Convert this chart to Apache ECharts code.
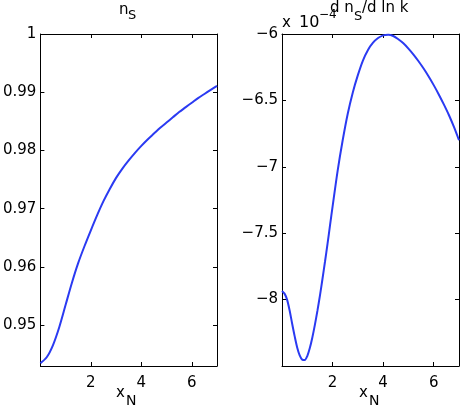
<!DOCTYPE html>
<html>
<head>
<meta charset="utf-8">
<script src="https://cdn.jsdelivr.net/npm/echarts@6/dist/echarts.min.js"></script>
<style>
  html, body { margin: 0; padding: 0; background: #fff; }
  #chart { width: 463px; height: 411px; }
</style>
</head>
<body>
<div id="chart"></div>
<script>
// left panel: n_S vs x_N
const nsX = [0, 0.25, 0.5, 0.75, 1, 1.25, 1.5, 1.75, 2, 2.25, 2.5, 2.75, 3, 3.25, 3.5, 3.75, 4,
  4.25, 4.5, 4.75, 5, 5.25, 5.5, 5.75, 6, 6.25, 6.5, 6.75, 7]
const nsY = [0.9435, 0.9445, 0.9466, 0.9497, 0.9535, 0.9573, 0.9607, 0.9636, 0.9663, 0.9689, 0.9713,
  0.9734, 0.9753, 0.9769, 0.9783, 0.9796, 0.9808, 0.9819, 0.9829, 0.9839, 0.9848, 0.9857, 0.9866,
  0.9874, 0.9882, 0.9890, 0.9897, 0.9904, 0.9911]

// right panel: d n_S / d ln k  (x 10^-4) vs x_N
const runX = [0, 0.1, 0.2, 0.3, 0.4, 0.5, 0.6, 0.7, 0.8, 0.9, 1.0, 1.1, 1.2, 1.3, 1.4, 1.5, 1.6, 1.7,
  1.8, 1.9, 2.0, 2.2, 2.4, 2.6, 2.8, 3.0, 3.2, 3.4, 3.6, 3.8, 4.0, 4.2, 4.4, 4.6, 4.8, 5.0, 5.2, 5.4,
  5.6, 5.8, 6.0, 6.2, 6.4, 6.6, 6.8, 7.0]
const runY = [-7.935, -7.955, -8.0, -8.08, -8.18, -8.275, -8.36, -8.42, -8.452, -8.455, -8.425, -8.365,
  -8.285, -8.19, -8.085, -7.97, -7.845, -7.715, -7.58, -7.44, -7.30, -7.03, -6.80, -6.60, -6.44, -6.31,
  -6.20, -6.12, -6.065, -6.03, -6.01, -6.005, -6.015, -6.04, -6.07, -6.11, -6.155, -6.205, -6.26,
  -6.32, -6.385, -6.455, -6.53, -6.61, -6.70, -6.80]

const xTicks = [2, 4, 6]
const nsTicks = [0.95, 0.96, 0.97, 0.98, 0.99, 1]
const runTicks = [-8, -7.5, -7, -6.5, -6]

const FONT = '"DejaVu Sans", Arial, sans-serif'
const LINE = '#2a3af2'

const chart = echarts.init(document.getElementById('chart'))

function xAx(grid, pos, labels) {
  return {
    type: 'value', gridIndex: grid, position: pos, min: 0, max: 7,
    axisLine: { show: true, onZero: false, lineStyle: { color: '#000', width: 1 } },
    splitLine: { show: false },
    axisTick: { show: true, inside: true, length: 4, customValues: xTicks, lineStyle: { color: '#000' } },
    axisLabel: { show: labels, customValues: xTicks, color: '#000', fontSize: 15, fontFamily: FONT, margin: 10 }
  }
}

function yAx(grid, pos, labels, min, max, ticks, fmt) {
  return {
    type: 'value', gridIndex: grid, position: pos, min: min, max: max,
    axisLine: { show: true, onZero: false, lineStyle: { color: '#000', width: 1 } },
    splitLine: { show: false },
    axisTick: { show: true, inside: true, length: 4, customValues: ticks, lineStyle: { color: '#000' } },
    axisLabel: { show: labels, customValues: ticks, color: '#000', fontSize: 15, fontFamily: FONT, margin: 4, formatter: fmt }
  }
}

const minus = v => String(v).replace('-', '\u2212')

function txt(x, y, s, size) {
  return {
    type: 'text', x: x, y: y,
    style: { text: s, fill: '#000', font: size + 'px ' + FONT, textAlign: 'left', textVerticalAlign: 'middle' }
  }
}

chart.setOption({
  animation: false,
  backgroundColor: '#fff',
  grid: [
    { left: 39, top: 34, width: 178, height: 332 },
    { left: 282, top: 34, width: 177, height: 332 }
  ],
  xAxis: [
    xAx(0, 'bottom', true), xAx(0, 'top', false),
    xAx(1, 'bottom', true), xAx(1, 'top', false)
  ],
  yAxis: [
    yAx(0, 'left', true, 0.943, 1, nsTicks, v => String(v)),
    yAx(0, 'right', false, 0.943, 1, nsTicks),
    yAx(1, 'left', true, -8.5, -6, runTicks, minus),
    yAx(1, 'right', false, -8.5, -6, runTicks)
  ],
  series: [
    {
      type: 'line', xAxisIndex: 0, yAxisIndex: 0, smooth: 0.3, symbol: 'none',
      lineStyle: { color: LINE, width: 2 },
      data: nsX.map((x, i) => [x, nsY[i]])
    },
    {
      type: 'line', xAxisIndex: 2, yAxisIndex: 2, smooth: 0.3, symbol: 'none',
      lineStyle: { color: LINE, width: 2 },
      data: runX.map((x, i) => [x, runY[i]])
    }
  ],
  graphic: [
    // left title  n_S
    txt(119, 10, 'n', 15), txt(128, 16, 'S', 13),
    // right exponent and title
    txt(282, 23, 'x', 15), txt(299, 23, '10', 16), txt(319, 15, '\u22124', 12),
    txt(330, 8, 'd n', 15), txt(354, 17, 'S', 13), txt(362, 8, '/d ln k', 15),
    // x labels  x_N
    txt(116, 393, 'x', 15), txt(126, 401, 'N', 14),
    txt(359, 393, 'x', 15), txt(369, 401, 'N', 14)
  ]
})
</script>
</body>
</html>
